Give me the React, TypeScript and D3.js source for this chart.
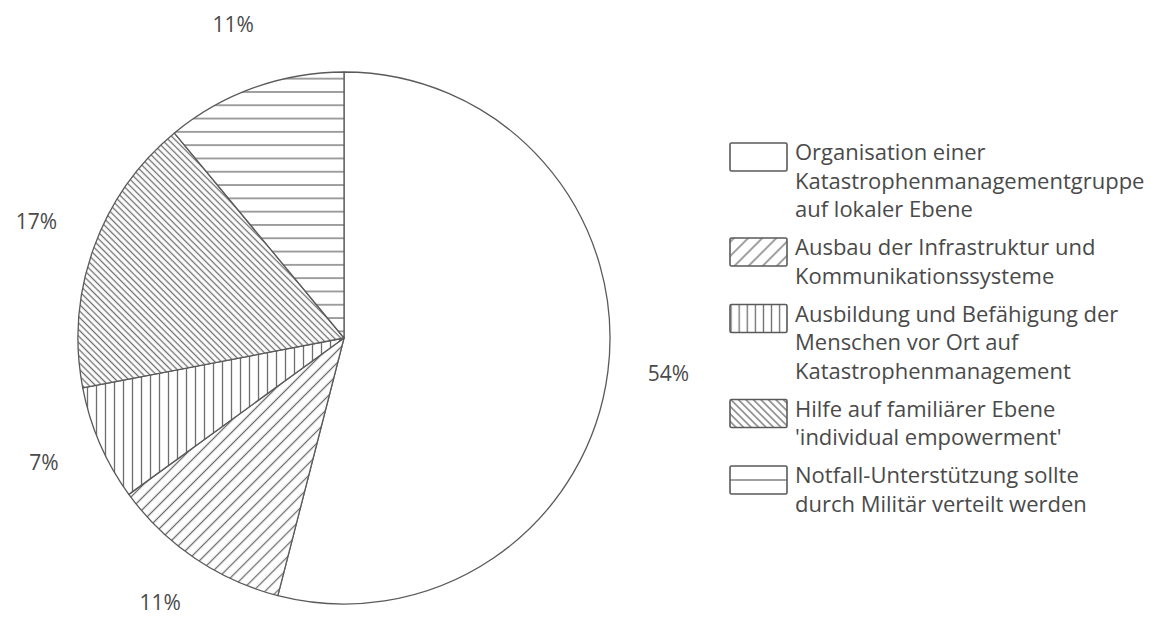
import React from "react";
import * as d3 from "d3";

const categories: string[][] = [
  ["Organisation einer", "Katastrophenmanagementgruppe", "auf lokaler Ebene"],
  ["Ausbau der Infrastruktur und", "Kommunikationssysteme"],
  ["Ausbildung und Befähigung der", "Menschen vor Ort auf", "Katastrophenmanagement"],
  ["Hilfe auf familiärer Ebene", "'individual empowerment'"],
  ["Notfall-Unterstützung sollte", "durch Militär verteilt werden"],
];
const values: number[] = [54, 11, 7, 17, 11];
const labels: string[] = ["54%", "11%", "7%", "17%", "11%"];
const patternKinds: string[] = ["none", "slash", "vertical", "backslash", "horizontal"];

const W = 1155;
const H = 617;
const CX = 344;
const CY = 338;
const R = 266;
const LABEL_R = 327;
const FONT = "'Open Sans', 'Noto Sans', sans-serif";
const TEXT_COLOR = "#4a4a4a";
const OUTLINE = "#5a5a5a";
const HATCH = "#6e6e6e";

function Hatch({ id, kind, spacing, tx = 0, ty = 0 }: { id: string; kind: string; spacing: number; tx?: number; ty?: number }) {
  const s = spacing;
  const c = s / 2;
  let transform = `translate(${tx},${ty})`;
  let line = <line x1={c} y1={-1} x2={c} y2={s + 1} stroke={HATCH} strokeWidth={1.3} />;
  if (kind === "slash") transform += " rotate(45)";
  if (kind === "backslash") transform += " rotate(-45)";
  if (kind === "horizontal") line = <line x1={-1} y1={c} x2={s + 1} y2={c} stroke={HATCH} strokeWidth={1.3} />;
  return (
    <pattern id={id} patternUnits="userSpaceOnUse" width={s} height={s} patternTransform={transform}>
      <rect width={s} height={s} fill="white" />
      {line}
    </pattern>
  );
}

const pieSpacing: Record<string, number> = { slash: 8.5, vertical: 9, backslash: 4.6, horizontal: 13.3 };
const legendSpacing: Record<string, number> = { slash: 10, vertical: 8.1, backslash: 5.3, horizontal: 28 };

export default function App() {
  const pie = d3.pie<number>().sort(null).value((d) => d).startAngle(0).endAngle(2 * Math.PI);
  const arcs = pie(values);
  const arc = d3.arc<d3.PieArcDatum<number>>().innerRadius(0).outerRadius(R);

  // legend layout
  const LX = 730;
  const BOX_W = 57;
  const BOX_H = 28;
  const TX = 795;
  const LINE_H = 28.5;
  const ITEM_GAP = 38;
  let baseline = 160;
  const legendItems = categories.map((lines, i) => {
    const first = baseline;
    const ys = lines.map((_, j) => first + j * LINE_H);
    baseline = ys[ys.length - 1] + ITEM_GAP;
    return { lines, ys, boxTop: first - 17, kind: patternKinds[i] };
  });

  return (
    <svg width={W} height={H} style={{ position: "absolute", left: 0, top: 0, background: "white" }}>
      <defs>
        {patternKinds.map((k, i) =>
          k === "none" ? null : <Hatch key={"p" + i} id={`pie-${k}`} kind={k} spacing={pieSpacing[k]} />
        )}
        {legendItems.map((it, i) =>
          it.kind === "none" ? null : (
            <Hatch
              key={"l" + i}
              id={`leg-${it.kind}`}
              kind={it.kind}
              spacing={legendSpacing[it.kind]}
              tx={LX - 3}
              ty={it.boxTop}
            />
          )
        )}
      </defs>
      <rect width={W} height={H} fill="white" />
      <g transform={`translate(${CX},${CY})`}>
        {arcs.map((a, i) => (
          <path
            key={i}
            d={arc(a) || ""}
            fill={patternKinds[i] === "none" ? "white" : `url(#pie-${patternKinds[i]})`}
            stroke={OUTLINE}
            strokeWidth={1.3}
            strokeLinejoin="round"
          />
        ))}
        {arcs.map((a, i) => {
          const mid = (a.startAngle + a.endAngle) / 2;
          const x = Math.sin(mid) * LABEL_R;
          const y = -Math.cos(mid) * LABEL_R - 6;
          return (
            <text
              key={"t" + i}
              x={x}
              y={y}
              textAnchor="middle"
              dominantBaseline="central"
              fontFamily={FONT}
              fontSize={21}
              fill={TEXT_COLOR}
            >
              {labels[i]}
            </text>
          );
        })}
      </g>
      <g>
        {legendItems.map((it, i) => (
          <g key={"li" + i}>
            <rect
              x={LX}
              y={it.boxTop}
              width={BOX_W}
              height={BOX_H}
              fill={it.kind === "none" ? "white" : `url(#leg-${it.kind})`}
              stroke={OUTLINE}
              strokeWidth={1.6}
              rx={1.5}
            />
            {it.lines.map((ln, j) => (
              <text key={j} x={TX} y={it.ys[j]} fontFamily={FONT} fontSize={22} fill={TEXT_COLOR}>
                {ln}
              </text>
            ))}
          </g>
        ))}
      </g>
    </svg>
  );
}
